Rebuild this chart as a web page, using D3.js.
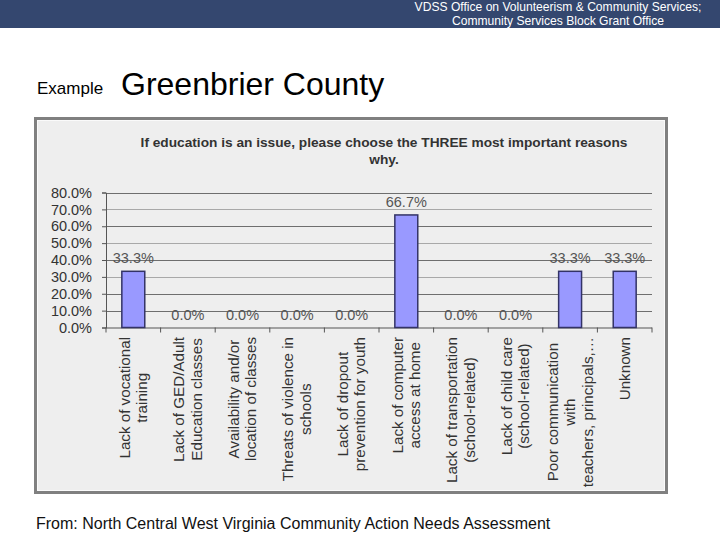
<!DOCTYPE html>
<html>
<head>
<meta charset="utf-8">
<script src="https://cdn.jsdelivr.net/npm/d3@7/dist/d3.min.js"></script>
<style>
  body { margin: 0; background: #fff; }
  svg { display: block; font-family: "Liberation Sans", Arial, sans-serif; }
</style>
</head>
<body>
<svg id="svg" width="720" height="540"></svg>
<script>
// chart data
const categories = [
    ["Lack of vocational", "training"],
    ["Lack of GED/Adult", "Education classes"],
    ["Availability and/or", "location of classes"],
    ["Threats of violence in", "schools"],
    ["Lack of dropout", "prevention for youth"],
    ["Lack of computer", "access at home"],
    ["Lack of transportation", "(school-related)"],
    ["Lack of child care", "(school-related)"],
    ["Poor communication", "with", "teachers, principals,…"],
    ["Unknown"]
];
const values = [33.3, 0.0, 0.0, 0.0, 0.0, 66.7, 0.0, 0.0, 33.3, 33.3];
const yTicks = [0, 10, 20, 30, 40, 50, 60, 70, 80];
const chartTitle = ["If education is an issue, please choose the THREE most important reasons", "why."];

const svg = d3.select("#svg");

// slide header band
svg.append("rect")
    .attr("x", 0).attr("y", 0)
    .attr("width", 720).attr("height", 28)
    .style("fill", "#34476f");
svg.append("text")
    .attr("x", 558).attr("y", 11)
    .attr("text-anchor", "middle")
    .style("font-size", "12.1px").style("fill", "#fff")
    .text("VDSS Office on Volunteerism & Community Services;");
svg.append("text")
    .attr("x", 558).attr("y", 25)
    .attr("text-anchor", "middle")
    .style("font-size", "12.1px").style("fill", "#fff")
    .text("Community Services Block Grant Office");

svg.append("text")
    .attr("x", 37).attr("y", 94)
    .style("font-size", "17px").style("fill", "#000")
    .text("Example");
svg.append("text")
    .attr("x", 121).attr("y", 95)
    .style("font-size", "32px").style("fill", "#000")
    .text("Greenbrier County");

// chart picture frame
svg.append("rect")
    .attr("x", 35.5).attr("y", 118.5)
    .attr("width", 631).attr("height", 374)
    .style("fill", "#eeeeee")
    .style("stroke", "#808080")
    .style("stroke-width", 3);
svg.append("rect")
    .attr("x", 37.5).attr("y", 120.5)
    .attr("width", 627).attr("height", 370)
    .style("fill", "none")
    .style("stroke", "#fafafa")
    .style("stroke-width", 1);

svg.selectAll(".title")
    .data(chartTitle)
    .join("text")
    .attr("class", "title")
    .attr("x", 384)
    .attr("y", (d, i) => 147 + i * 17)
    .attr("text-anchor", "middle")
    .style("font-size", "13.7px").style("font-weight", "bold")
    .style("fill", "#333")
    .text(d => d);

const plotLeft = 106, plotRight = 652, plotTop = 192.5, plotBottom = 327.5;

const x = d3.scaleBand()
    .domain(d3.range(categories.length))
    .range([plotLeft, plotRight])
    .paddingInner(0.58)
    .paddingOuter(0.29);

const xEdges = d3.scaleLinear()
    .domain([0, categories.length])
    .range([plotLeft, plotRight]);

const y = d3.scaleLinear()
    .domain([0, 80])
    .range([plotBottom, plotTop]);

// gridlines
svg.append("g")
    .selectAll("line")
    .data(yTicks.filter(t => t > 0))
    .join("line")
    .attr("x1", plotLeft).attr("x2", plotRight)
    .attr("y1", d => Math.round(y(d)) + 0.5)
    .attr("y2", d => Math.round(y(d)) + 0.5)
    .style("stroke", d => (d % 20 === 0 || d === 10) ? "#6e6e6e" : "#a8a8a8")
    .style("stroke-width", 1);

// y axis
const yAxis = svg.append("g")
    .attr("transform", "translate(" + plotLeft + ",0)")
    .call(d3.axisLeft(y).tickValues(yTicks).tickSize(4).tickPadding(10)
        .tickFormat(d => d.toFixed(1) + "%"));
yAxis.select(".domain").style("stroke", "#555");
yAxis.selectAll(".tick line").style("stroke", "#555");
yAxis.selectAll(".tick text")
    .style("font-size", "14.5px")
    .style("font-family", "\"Liberation Sans\", Arial, sans-serif")
    .style("fill", "#333");

// x axis line and tick marks at category edges
svg.append("line")
    .attr("x1", plotLeft).attr("x2", plotRight)
    .attr("y1", plotBottom + 0.5).attr("y2", plotBottom + 0.5)
    .style("stroke", "#555");
svg.append("g")
    .selectAll("line")
    .data(d3.range(categories.length + 1))
    .join("line")
    .attr("x1", d => xEdges(d)).attr("x2", d => xEdges(d))
    .attr("y1", plotBottom).attr("y2", plotBottom + 5)
    .style("stroke", "#555");

// bars
svg.append("g")
    .selectAll("rect")
    .data(values)
    .join("rect")
    .attr("x", (d, i) => x(i))
    .attr("y", d => y(d))
    .attr("width", x.bandwidth())
    .attr("height", d => y(0) - y(d))
    .style("fill", "#9999ff")
    .style("stroke", "#333366")
    .style("stroke-width", d => d > 0 ? 1.5 : 0);

// value labels
svg.append("g")
    .selectAll("text")
    .data(values)
    .join("text")
    .attr("x", (d, i) => x(i) + x.bandwidth() / 2)
    .attr("y", d => y(d) - 8)
    .attr("text-anchor", "middle")
    .style("font-size", "14.5px")
    .style("fill", "#555")
    .text(d => d.toFixed(1) + "%");

// rotated category labels, top aligned at the axis, lines centred
const labelTop = 337;
const lineGap = 17.5;
categories.forEach((lines, i) => {
    const cx = x(i) + x.bandwidth() / 2;
    const g = svg.append("g");
    const texts = g.selectAll("text")
        .data(lines)
        .join("text")
        .attr("text-anchor", "middle")
        .style("font-size", "15.2px")
        .style("fill", "#333")
        .text(d => d);
    let maxLen = 0;
    texts.each(function () { maxLen = Math.max(maxLen, this.getComputedTextLength()); });
    const cy = labelTop + maxLen / 2;
    texts.attr("transform", (d, j) => {
        const off = (j - (lines.length - 1) / 2) * lineGap;
        return "translate(" + (cx + off + 5) + "," + cy + ")rotate(-90)";
    });
});

svg.append("text")
    .attr("x", 36).attr("y", 529)
    .style("font-size", "16px").style("fill", "#111")
    .text("From: North Central West Virginia Community Action Needs Assessment");
</script>
</body>
</html>
